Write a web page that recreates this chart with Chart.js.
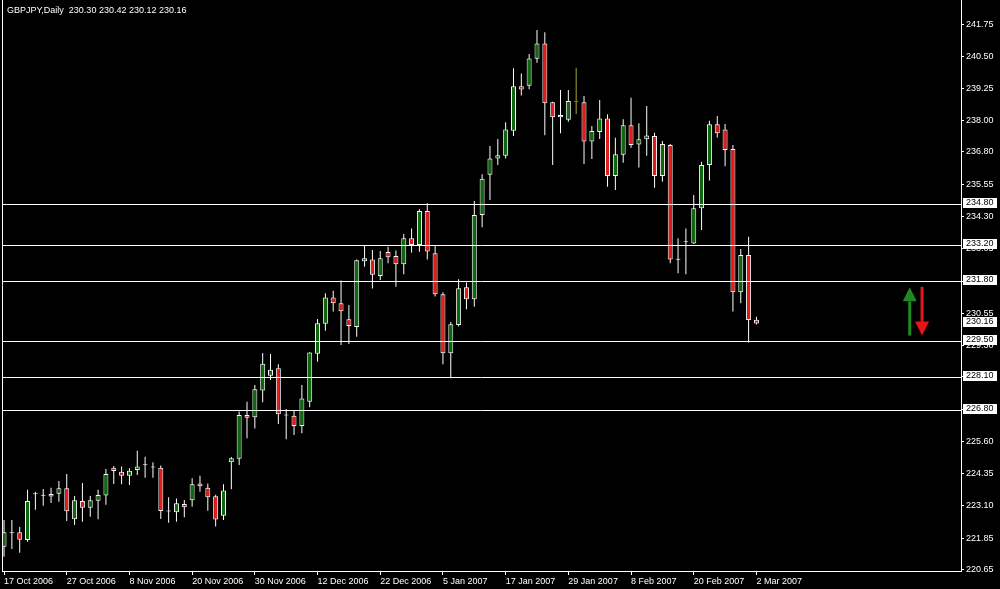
<!DOCTYPE html>
<html>
<head>
<meta charset="utf-8">
<title>GBPJPY,Daily</title>
<script src="https://cdn.jsdelivr.net/npm/chart.js@4.4.1/dist/chart.umd.min.js"></script>
<style>
  html, body { margin: 0; padding: 0; background: #000; }
  #wrap { width: 1000px; height: 589px; }
</style>
</head>
<body>
<div id="wrap"><canvas id="chart" width="1000" height="589"></canvas></div>
<script>
// GBPJPY daily candles, 17 Oct 2006 .. 2 Mar 2007
const symbol = "GBPJPY,Daily";

const dates = [
  "17 Oct 2006","18 Oct 2006","19 Oct 2006","20 Oct 2006","23 Oct 2006","24 Oct 2006","25 Oct 2006","26 Oct 2006","27 Oct 2006","30 Oct 2006","31 Oct 2006",
  "1 Nov 2006","2 Nov 2006","3 Nov 2006","6 Nov 2006","7 Nov 2006","8 Nov 2006","9 Nov 2006","10 Nov 2006","13 Nov 2006","14 Nov 2006","15 Nov 2006",
  "16 Nov 2006","17 Nov 2006","20 Nov 2006","21 Nov 2006","22 Nov 2006","23 Nov 2006","24 Nov 2006","27 Nov 2006","28 Nov 2006","29 Nov 2006","30 Nov 2006",
  "1 Dec 2006","4 Dec 2006","5 Dec 2006","6 Dec 2006","7 Dec 2006","8 Dec 2006","11 Dec 2006","12 Dec 2006","13 Dec 2006","14 Dec 2006","15 Dec 2006",
  "18 Dec 2006","19 Dec 2006","20 Dec 2006","21 Dec 2006","22 Dec 2006","26 Dec 2006","27 Dec 2006","28 Dec 2006","29 Dec 2006",
  "2 Jan 2007","3 Jan 2007","4 Jan 2007","5 Jan 2007","8 Jan 2007","9 Jan 2007","10 Jan 2007","11 Jan 2007","12 Jan 2007","15 Jan 2007","16 Jan 2007",
  "17 Jan 2007","18 Jan 2007","19 Jan 2007","22 Jan 2007","23 Jan 2007","24 Jan 2007","25 Jan 2007","26 Jan 2007","29 Jan 2007","30 Jan 2007","31 Jan 2007",
  "1 Feb 2007","2 Feb 2007","5 Feb 2007","6 Feb 2007","7 Feb 2007","8 Feb 2007","9 Feb 2007","12 Feb 2007","13 Feb 2007","14 Feb 2007","15 Feb 2007",
  "16 Feb 2007","19 Feb 2007","20 Feb 2007","21 Feb 2007","22 Feb 2007","23 Feb 2007","26 Feb 2007","27 Feb 2007","28 Feb 2007","1 Mar 2007","2 Mar 2007"
];

const open = [
  221.52,222.04,222.08,221.78,223.55,223.49,223.46,223.57,223.78,222.58,
  223.29,223.03,223.30,223.50,224.58,224.42,224.27,224.49,224.67,224.61,
  224.58,222.88,222.85,223.17,223.32,223.97,223.80,223.47,222.72,224.79,
  224.92,226.62,226.53,227.57,228.14,228.43,226.60,226.59,226.19,227.13,
  228.99,230.15,231.17,230.94,230.32,230.02,232.57,232.64,232.00,232.93,
  232.77,232.45,233.46,233.20,234.51,232.88,231.29,229.01,230.10,231.56,
  231.10,234.36,235.92,236.55,236.65,237.62,239.34,239.36,240.41,241.00,
  238.72,238.14,238.05,238.72,238.72,237.20,237.57,238.09,235.87,236.69,
  237.83,237.09,237.29,237.42,235.87,237.07,232.63,233.30,233.26,234.62,
  236.29,237.87,237.67,236.91,231.37,232.81,230.30
];
const high = [
  222.55,222.55,222.28,223.72,223.65,223.75,223.80,224.06,224.33,223.48,
  223.99,223.48,223.72,224.53,224.64,224.62,224.56,225.23,225.00,224.79,
  224.66,223.43,223.39,223.33,224.17,224.27,223.97,223.53,223.94,224.99,
  226.75,227.13,227.78,229.02,228.98,228.58,226.85,226.77,227.78,229.05,
  230.33,231.33,231.43,231.82,230.88,232.64,233.20,233.00,232.97,233.13,
  232.98,233.62,233.84,234.58,234.81,233.16,231.37,230.22,231.87,231.75,
  234.90,235.94,237.03,237.30,237.95,240.04,239.84,240.59,241.52,241.43,
  238.74,239.20,239.20,240.06,238.96,237.80,238.81,238.26,237.35,238.06,
  238.90,237.91,238.58,237.54,237.22,237.11,233.46,233.84,235.13,236.42,
  238.01,238.19,237.88,237.07,233.04,233.52,230.42
];
const low = [
  221.13,221.43,221.29,221.71,222.95,223.11,223.21,223.26,222.52,222.36,
  222.49,222.68,222.58,223.14,223.95,223.94,223.91,224.30,224.19,224.19,
  222.59,222.45,222.49,222.66,223.07,223.65,222.91,222.30,222.55,223.74,
  224.68,225.72,226.10,227.11,227.97,226.27,225.68,225.84,225.91,226.92,
  228.68,229.88,230.62,229.33,229.37,229.65,232.36,231.51,231.84,232.49,
  231.58,232.07,232.90,232.94,232.64,231.20,228.58,228.04,230.04,230.71,
  230.81,233.88,234.94,236.29,236.55,237.42,238.98,239.23,240.25,237.45,
  236.29,237.52,237.97,238.27,236.33,236.53,237.30,235.45,235.33,236.38,
  236.96,236.20,236.65,235.41,235.65,232.49,232.10,232.07,233.24,233.78,
  235.69,237.36,236.25,230.62,230.94,229.42,230.12
];
const close = [
  222.08,222.06,221.79,223.29,223.58,223.51,223.56,223.78,222.89,223.32,
  223.03,223.32,223.52,224.33,224.45,224.27,224.46,224.62,224.69,224.59,
  222.90,222.90,223.20,223.05,223.94,223.86,223.43,222.57,223.70,224.94,
  226.62,226.51,227.61,228.60,228.37,226.65,226.62,226.19,227.26,229.04,
  230.17,231.17,230.94,230.63,230.06,232.61,232.68,232.05,232.68,232.72,
  232.45,233.46,233.20,234.51,232.95,231.29,229.01,230.13,231.52,231.10,
  234.36,235.76,236.55,236.67,237.67,239.34,239.22,240.42,241.00,238.68,
  238.14,238.23,238.77,238.72,237.20,237.61,238.09,235.87,236.71,237.83,
  237.07,237.29,237.44,235.87,237.11,232.64,232.65,233.32,234.62,236.29,
  237.87,237.52,236.87,231.37,232.81,230.29,230.16
];

// axis ticks and horizontal levels
const xTicks = [0, 8, 16, 24, 32, 40, 48, 56, 64, 72, 80, 88, 96];
const yTicks = [241.75, 240.50, 239.25, 238.00, 236.80, 235.55, 234.30, 233.05, 231.80,
                230.55, 229.30, 228.10, 226.85, 225.60, 224.35, 223.10, 221.85, 220.65];
const levels = [234.80, 233.20, 231.80, 229.50, 228.10, 226.80];

// arrow objects: [bar position, from price, to price]
const upArrow = [115.56, 229.69, 231.56];
const downArrow = [117.13, 231.58, 229.69];

const bull = '#0c690c', bear = '#e51b1b', dojiCol = '#a3a32e';
const font = { family: 'Liberation Sans', size: 9 };

const edgeCol = open.map((o, i) => close[i] === o ? dojiCol : '#ffffff');
const bodyCol = open.map((o, i) => close[i] > o ? bull : (close[i] < o ? bear : dojiCol));

const wicks = dates.map((d, i) => ({ x: i, y: [low[i], high[i]] }));
const bodies = dates.map((d, i) => ({ x: i, y: [open[i], close[i]] }));

function drawArrow(ctx, xs, ys, a, color) {
  const x = xs.getPixelForValue(a[0]);
  const y0 = ys.getPixelForValue(a[1]);
  const y1 = ys.getPixelForValue(a[2]);
  const dir = y1 < y0 ? -1 : 1;
  const yb = y1 - dir * 14;
  ctx.fillStyle = color;
  ctx.fillRect(x - 1.5, Math.min(y0, yb), 3, Math.abs(yb - y0));
  ctx.beginPath();
  ctx.moveTo(x - 7, yb);
  ctx.lineTo(x + 7, yb);
  ctx.lineTo(x, y1);
  ctx.closePath();
  ctx.fill();
}

function priceBox(ctx, ys, v) {
  const y = Math.round(ys.getPixelForValue(v));
  ctx.fillStyle = '#ffffff';
  ctx.fillRect(963, y - 6, 34, 10);
  ctx.fillStyle = '#000000';
  ctx.font = '9px "Liberation Sans"';
  ctx.textAlign = 'left';
  ctx.textBaseline = 'middle';
  ctx.fillText(v.toFixed(2), 966, y - 1);
}

const overlay = {
  id: 'overlay',
  afterDatasetsDraw(chart) {
    const { ctx, chartArea: a, scales } = chart;
    ctx.save();
    ctx.strokeStyle = '#ffffff';
    ctx.lineWidth = 1;
    levels.forEach(v => {
      const y = Math.round(scales.y.getPixelForValue(v)) + 0.5;
      ctx.beginPath();
      ctx.moveTo(a.left, y);
      ctx.lineTo(a.right, y);
      ctx.stroke();
    });
    drawArrow(ctx, scales.x, scales.y, upArrow, '#1f8a1f');
    drawArrow(ctx, scales.x, scales.y, downArrow, '#e8141a');
    ctx.restore();
  },
  afterDraw(chart) {
    const { ctx, chartArea: a, scales } = chart;
    ctx.save();
    // left frame line
    ctx.strokeStyle = '#ffffff';
    ctx.beginPath();
    ctx.moveTo(a.left + 0.5, a.top);
    ctx.lineTo(a.left + 0.5, a.bottom);
    ctx.stroke();
    levels.forEach(v => priceBox(ctx, scales.y, v));
    const n = close.length - 1;
    priceBox(ctx, scales.y, close[n]);
    // title with last bar OHLC
    ctx.fillStyle = '#ffffff';
    ctx.font = '9px "Liberation Sans"';
    ctx.textAlign = 'left';
    ctx.textBaseline = 'middle';
    const ohlc = [open[n], high[n], low[n], close[n]].map(v => v.toFixed(2)).join(' ');
    ctx.fillText(symbol + '  ' + ohlc, 7, 11);
    ctx.restore();
  }
};

new Chart(document.getElementById('chart'), {
  type: 'bar',
  data: {
    datasets: [
      {
        data: bodies,
        backgroundColor: bodyCol,
        borderColor: edgeCol,
        borderWidth: 1,
        borderSkipped: false,
        barThickness: 5,
        minBarLength: 1,
        inflateAmount: 0,
        grouped: false,
        order: 1
      },
      {
        data: wicks,
        backgroundColor: edgeCol,
        borderWidth: 0,
        barThickness: 1,
        inflateAmount: 0,
        grouped: false,
        order: 2
      }
    ]
  },
  options: {
    responsive: false,
    devicePixelRatio: 1,
    animation: false,
    events: [],
    layout: { padding: { left: 2, top: 0, right: 0, bottom: 0 } },
    plugins: { legend: { display: false }, tooltip: { enabled: false } },
    scales: {
      x: {
        type: 'linear',
        min: -0.26,
        max: 122.1,
        offset: false,
        bounds: 'data',
        grid: { display: true, drawOnChartArea: false, tickLength: 4, color: '#ffffff', offset: false },
        border: { display: true, color: '#ffffff', width: 1 },
        ticks: {
          autoSkip: false, maxRotation: 0, minRotation: 0, align: 'start', padding: 1,
          color: '#ffffff', font: font,
          callback: v => dates[v]
        },
        afterBuildTicks: s => { s.ticks = xTicks.map(v => ({ value: v })); },
        afterFit: s => { s.height = 18; s.paddingLeft = 0; s.paddingRight = 0; }
      },
      y: {
        type: 'linear',
        position: 'right',
        min: 220.58,
        max: 242.68,
        bounds: 'data',
        grid: { display: true, drawOnChartArea: false, tickLength: 3, color: '#ffffff' },
        border: { display: true, color: '#ffffff', width: 1 },
        ticks: {
          autoSkip: false, padding: 2, color: '#ffffff', font: font,
          callback: v => Number(v).toFixed(2)
        },
        afterBuildTicks: s => { s.ticks = yTicks.map(v => ({ value: v })); },
        afterFit: s => { s.width = 39; s.paddingTop = 0; s.paddingBottom = 0; }
      }
    }
  },
  plugins: [overlay]
});
</script>
</body>
</html>
